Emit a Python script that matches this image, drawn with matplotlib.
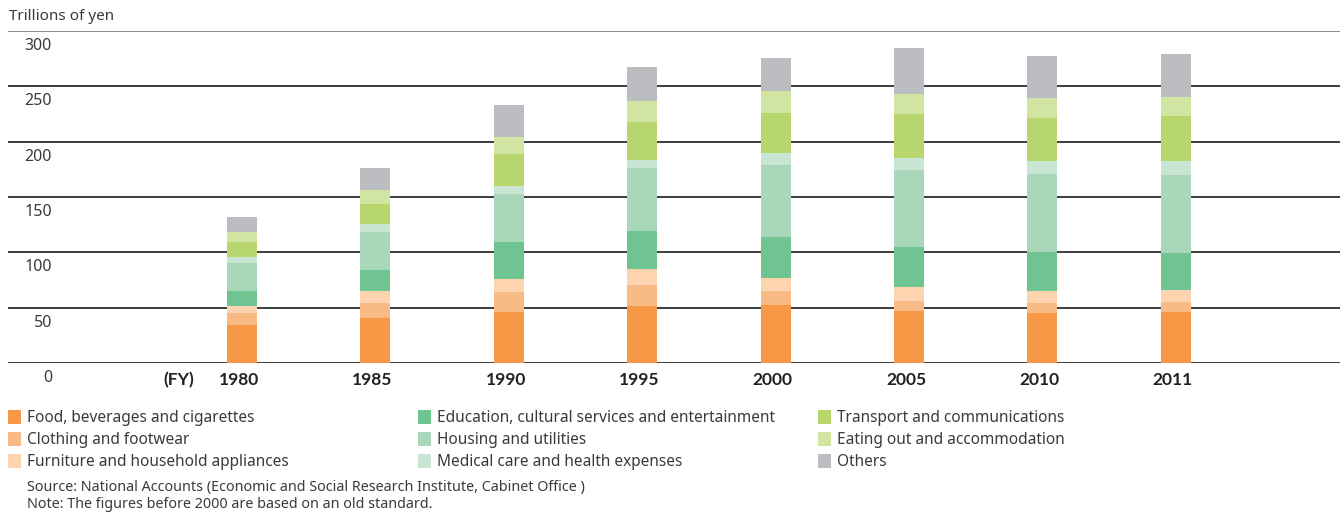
import matplotlib
matplotlib.use("Agg")
import matplotlib.pyplot as plt
import matplotlib.transforms as mtransforms
import numpy as np

years = ["1980", "1985", "1990", "1995", "2000", "2005", "2010", "2011"]

categories = [
    "Food, beverages and cigarettes",
    "Clothing and footwear",
    "Furniture and household appliances",
    "Education, cultural services and entertainment",
    "Housing and utilities",
    "Medical care and health expenses",
    "Transport and communications",
    "Eating out and accommodation",
    "Others",
]

# Trillions of yen, per fiscal year
food = [34.0, 41.0, 46.1, 51.5, 52.4, 47.0, 45.2, 46.1]
clothing = [11.5, 13.5, 18.1, 19.0, 12.7, 9.0, 9.0, 9.0]
furniture = [6.3, 10.9, 11.7, 14.4, 11.7, 12.7, 10.9, 10.9]
education = [13.6, 18.9, 33.4, 34.4, 37.1, 36.1, 35.2, 33.4]
housing = [25.3, 34.4, 43.4, 56.9, 65.0, 69.6, 70.5, 70.5]
medical = [5.4, 7.2, 7.2, 7.2, 10.9, 10.8, 11.7, 12.6]
transport = [13.5, 18.1, 29.0, 34.4, 36.1, 39.8, 38.9, 40.7]
eating_out = [9.1, 12.6, 15.3, 18.9, 19.9, 18.1, 18.1, 17.2]
others = [13.5, 19.9, 28.9, 30.8, 29.8, 41.5, 37.9, 38.8]

y_ticks = [0, 50, 100, 150, 200, 250, 300]

series = [food, clothing, furniture, education, housing, medical,
          transport, eating_out, others]
colors = ["#F69845", "#F9BB85", "#FDD4AF", "#6FC491", "#A9D7B9",
          "#C8E6D3", "#B7D76E", "#D1E4A2", "#BCBDC1"]

plt.rcParams["font.family"] = ["Noto Sans", "DejaVu Sans"]
text_color = "#3a3a3a"
bold_family = ["Lato", "DejaVu Sans"]

fig = plt.figure(figsize=(13.44, 5.13), dpi=100)
W, H = 1344, 513
ax = fig.add_axes([8 / W, 1 - 363 / H, (1340 - 8) / W, (363 - 31) / H])

x = np.arange(len(years))
bottom = np.zeros(len(years))
for vals, col in zip(series, colors):
    ax.bar(x, vals, width=0.225, bottom=bottom, color=col, linewidth=0, zorder=3)
    bottom += np.array(vals)

ax.set_ylim(0, 300)
ax.set_xlim(-1.754, 8.23)
for s in ax.spines.values():
    s.set_visible(False)
ax.set_xticks([])
ax.set_yticks([])

for v in y_ticks:
    lc = "#8a8a8a" if v == 300 else "#3c3c3c"
    ax.axhline(v, color=lc, linewidth=1.4, zorder=2)

# value labels sit just below each gridline
trans = mtransforms.blended_transform_factory(ax.transAxes, ax.transData)
for v in y_ticks:
    ax.annotate(str(v), xy=(44 / 1332, v), xycoords=trans,
                xytext=(0, -15), textcoords="offset pixels",
                ha="right", va="center", fontsize=11.5, color=text_color)

for xi, yr in zip(x, years):
    ax.annotate(yr, xy=(xi, 0), xycoords=("data", "data"),
                xytext=(-3, -17), textcoords="offset pixels",
                ha="center", va="center", fontsize=12.5,
                fontweight="bold", family=bold_family, color="#222222")
ax.annotate("(FY)", xy=(x[0], 0), xycoords=("data", "data"),
            xytext=(-63, -17), textcoords="offset pixels",
            ha="center", va="center", fontsize=12.5,
            fontweight="bold", family=bold_family, color="#222222")

fig.text(9 / W, 1 - 16 / H, "Trillions of yen", ha="left", va="center",
         fontsize=11, color=text_color)

# legend in three columns
col_x = [8, 418, 818]
row_y = [417, 439, 461]
for i, (name, col) in enumerate(zip(categories, colors)):
    cx = col_x[i // 3]
    cy = row_y[i % 3]
    fig.patches.append(plt.Rectangle((cx / W, 1 - (cy + 7) / H), 13 / W, 14 / H,
                                     transform=fig.transFigure,
                                     facecolor=col, edgecolor="none"))
    fig.text((cx + 19) / W, 1 - (cy + 1) / H, name, ha="left", va="center",
             fontsize=11.1, color=text_color)

fig.text(27 / W, 1 - 488 / H,
         "Source: National Accounts (Economic and Social Research Institute, Cabinet Office )",
         ha="left", va="center", fontsize=10.3, color=text_color)
fig.text(27 / W, 1 - 504 / H,
         "Note: The figures before 2000 are based on an old standard.",
         ha="left", va="center", fontsize=10.3, color=text_color)

fig.savefig("out.png", dpi=100)
